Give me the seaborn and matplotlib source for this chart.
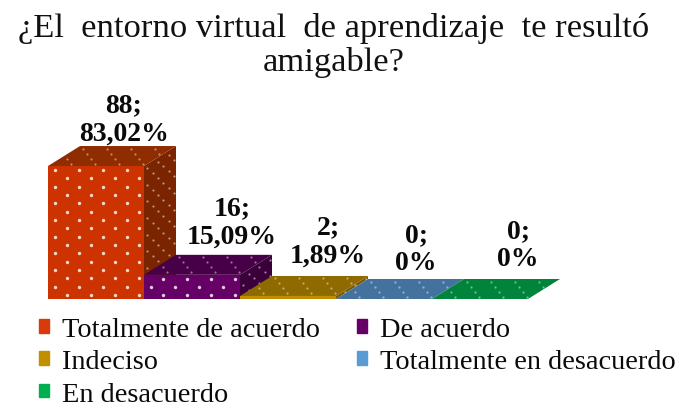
import numpy as np
import pandas as pd
import seaborn as sns
import matplotlib.pyplot as plt
from matplotlib.patches import Polygon

categorias = ["Totalmente de acuerdo", "De acuerdo", "Indeciso",
              "Totalmente en desacuerdo", "En desacuerdo"]
valores = [88, 16, 2, 0, 0]
etiquetas = ["88;\n83,02%", "16;\n15,09%", "2;\n1,89%", "0;\n0%", "0;\n0%"]

# colours per face
frente = ["#CC3300", "#660066", "#BF8F00", "#4F81B5", "#00A050"]
arriba = ["#8F2C00", "#470047", "#8F6A00", "#44729F", "#00843C"]
lado = ["#7A2500", "#3A003A", "#7A5A00", "#3A6088", "#006F32"]
leyenda_col = ["#D83A0A", "#660066", "#BF8F00", "#5B9BD5", "#00B050"]

# label offsets from bar centre / bar top, in pixels
etq_dx = [28, 40, 40, 32, 38]
etq_dy = [27, 33, 35, 30, 34]

W, H = 677, 406
sns.set_theme(style="white")
plt.rcParams["font.family"] = ["Liberation Serif", "DejaVu Serif"]

df = pd.DataFrame({"cat": categorias, "n": valores})

fig = plt.figure(figsize=(W / 100, H / 100), dpi=100)
ax = fig.add_axes([48 / W, (H - 300) / H, 480 / W, 153 / H])
sns.barplot(data=df, x="cat", y="n", hue="cat", palette=leyenda_col, dodge=False,
            width=1, legend=False, ax=ax, saturation=1)
ax.set_xlim(-0.5, 4.5)
ax.set_ylim(0, 153 / 1.511)
ax.axis("off")

# 3D look: 32 px right, 20 px up
dx = 32 / 96
dy = 20 / 1.511
paso_x = 0.25
paso_y = 8 / 1.511


def puntos(o, e1, e2, n1, n2, alpha, tam, z):
    xs, ys = [], []
    for j in range(n2):
        for i in range(n1):
            a = (i + (0.3 if j % 2 else 0.8)) / n1
            b = (j + 0.5) / n2
            xs.append(o[0] + a * e1[0] + b * e2[0])
            ys.append(o[1] + a * e1[1] + b * e2[1])
    ax.scatter(xs, ys, s=tam, color="white", alpha=alpha, linewidths=0,
               zorder=z, clip_on=False)


barras = [c[0] for c in ax.containers]
for i, b in enumerate(barras):
    x0, w, h = b.get_x(), b.get_width(), b.get_height()
    z = 2 + i * 3
    b.set_facecolor(frente[i])
    b.set_edgecolor("none")
    b.set_linewidth(0)
    b.set_zorder(z + 1)
    b.set_clip_on(False)
    if h > 0:
        ax.add_patch(Polygon([(x0 + w, 0), (x0 + w + dx, dy), (x0 + w + dx, h + dy), (x0 + w, h)],
                             color=lado[i], lw=0, zorder=z, clip_on=False))
        puntos((x0 + w, 0), (dx, dy), (0, h), 3, max(int(h / paso_y), 1), 0.5, 2.5, z + 0.5)
    ax.add_patch(Polygon([(x0, h), (x0 + w, h), (x0 + w + dx, h + dy), (x0 + dx, h + dy)],
                         color=arriba[i], lw=0, zorder=z + 1, clip_on=False))
    puntos((x0, h), (w, 0), (dx, dy), int(w / paso_x), 4, 0.45, 2.5, z + 1.5)
    if h > paso_y:
        puntos((x0, 0), (w, 0), (0, h), int(w / paso_x), int(h / paso_y), 0.8, 6, z + 2)
    ax.annotate(etiquetas[i], xy=(x0 + w / 2, h + dy), xytext=(etq_dx[i] * 0.72, etq_dy[i] * 0.72),
                textcoords="offset points", ha="center", va="center", fontsize=20,
                fontweight="bold", linespacing=1.15, color="#0A0A0A",
                annotation_clip=False, zorder=40)

# legend is filled by column, so order the handles to read across in rows
orden = [0, 2, 4, 1, 3]
handles = [plt.Rectangle((0, 0), 1, 1, color=leyenda_col[i]) for i in orden]
fig.legend(handles, [categorias[i] for i in orden], ncol=2, frameon=False,
           loc="upper left", bbox_to_anchor=(39 / W, 1 - 318 / H), fontsize=20.4,
           handlelength=0.36, handleheight=0.36, handletextpad=0.46, labelspacing=0.26,
           columnspacing=1.3, borderpad=0, borderaxespad=0, labelcolor="#0A0A0A")

fig.text(334 / W, 1 - 28 / H, "¿El  entorno virtual  de aprendizaje  te resultó", ha="center",
         va="center", fontsize=24.8, color="#111111")
fig.text(334 / W, 1 - 63 / H, "amigable?", ha="center", va="center", fontsize=24.8,
         color="#111111")

fig.savefig("out.png", dpi=100)
